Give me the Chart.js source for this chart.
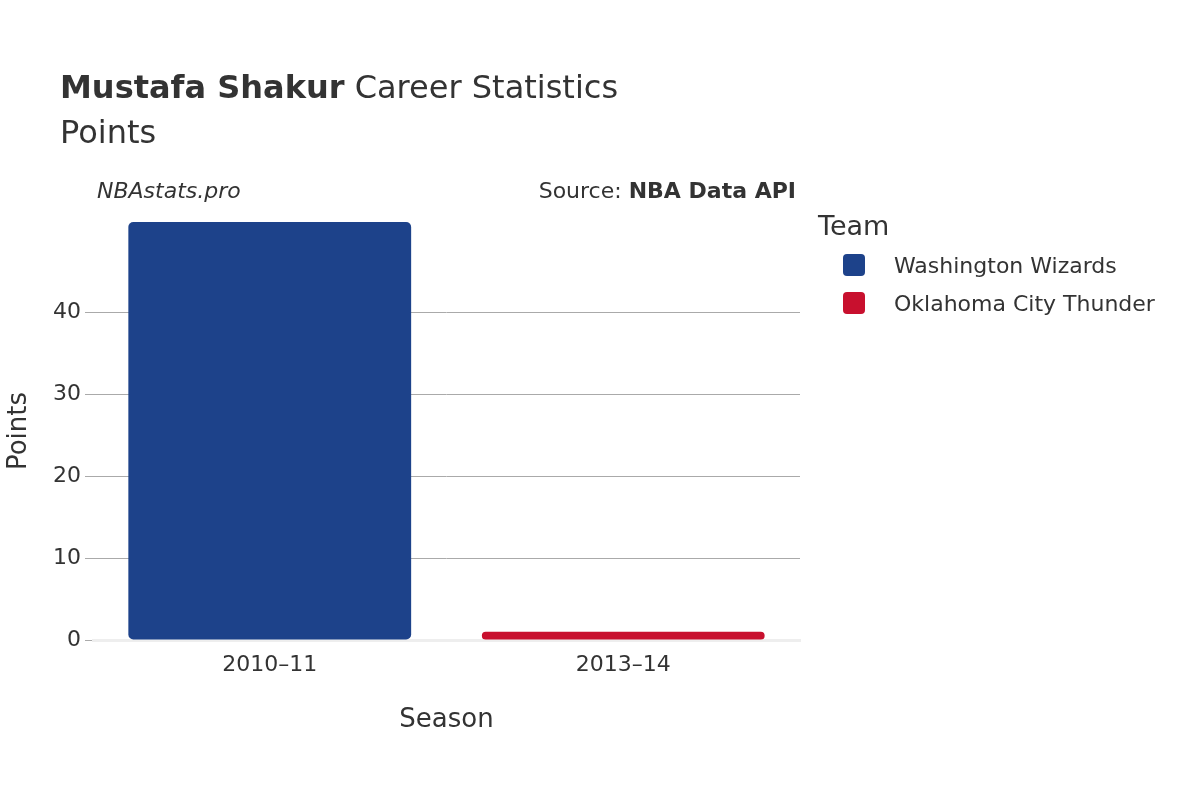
<!DOCTYPE html>
<html>
<head>
<meta charset="utf-8">
<script src="https://cdn.jsdelivr.net/npm/chart.js@4"></script>
<style>
  body { margin: 0; font-family: "DejaVu Sans", sans-serif; color: #333; background: #fff; }
  #wrap { position: relative; width: 1200px; height: 800px; }
  #wrap canvas { position: absolute; left: 0; top: 0; }
  .t { position: absolute; white-space: nowrap; }
  .sw { position: absolute; width: 22px; height: 22px; border-radius: 4px; }
</style>
</head>
<body>
<div id="wrap">
  <canvas id="chart" width="1200" height="800"></canvas>
  <div class="t" style="left:60px;top:68px;font-size:32px;color:#333"><b>Mustafa Shakur</b> Career Statistics</div>
  <div class="t" style="left:60px;top:113px;font-size:32px;color:#333">Points</div>
  <div class="t" style="left:97px;top:178px;font-size:22px;font-style:italic">NBAstats.pro</div>
  <div class="t" style="right:404px;top:178px;font-size:22px">Source: <b>NBA Data API</b></div>
  <div class="t" style="left:818px;top:210px;font-size:27px">Team</div>
  <div class="sw" style="left:843px;top:254px;background:#1d428a"></div>
  <div class="t" style="left:894px;top:253px;font-size:22px">Washington Wizards</div>
  <div class="sw" style="left:843px;top:292px;background:#c8102e"></div>
  <div class="t" style="left:894px;top:291px;font-size:22px">Oklahoma City Thunder</div>
</div>
<script>
const seasons = ["2010\u201311", "2013\u201314"];
const teams = ["Washington Wizards", "Oklahoma City Thunder"];
const teamColors = ["#1d428a", "#c8102e"];
const points = [51, 1];

const datasets = teams.map((team, i) => ({
  label: team,
  data: seasons.map((s, j) => (j === i ? points[j] : null)),
  backgroundColor: teamColors[i],
  borderRadius: 5,
  borderSkipped: false,
  categoryPercentage: 1,
  barPercentage: 0.8,
  grouped: false,
}));

new Chart(document.getElementById("chart"), {
  type: "bar",
  data: { labels: seasons, datasets },
  options: {
    responsive: false,
    animation: false,
    layout: { padding: { left: 0, right: 400, top: 222, bottom: 60 } },
    plugins: { legend: { display: false }, tooltip: { enabled: false } },
    scales: {
      x: {
        grid: { display: false },
        border: { color: "#eeeeee", width: 3 },
        ticks: { color: "#333", font: { family: "DejaVu Sans", size: 22 }, padding: 4 },
        title: { display: true, text: "Season", color: "#333", font: { family: "DejaVu Sans", size: 26 }, padding: { top: 22 } },
        afterFit: (s) => { s.height = 100; },
      },
      y: {
        min: 0,
        max: 51,
        ticks: {
          stepSize: 10,
          color: "#333",
          font: { family: "DejaVu Sans", size: 22 },
          padding: 4,
          callback: (v) => (v % 10 === 0 ? v : null),
        },
        grid: { color: (c) => (c.tick.value === 0 ? "#eeeeee" : "#aaaaaa"), tickLength: 8, tickColor: "#aaaaaa" },
        border: { display: false },
        title: { display: true, text: "Points", color: "#333", font: { family: "DejaVu Sans", size: 26 } },
        afterFit: (s) => { s.width = 93; },
      },
    },
  },
});
</script>
</body>
</html>
